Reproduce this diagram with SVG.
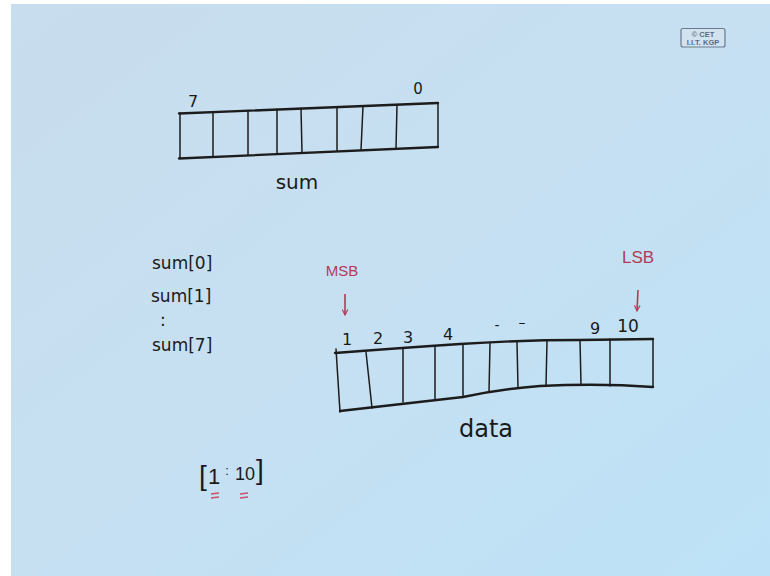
<svg xmlns="http://www.w3.org/2000/svg" width="770" height="576" viewBox="0 0 770 576">
<defs>
<linearGradient id="bg" x1="0" y1="0" x2="1" y2="1">
<stop offset="0" stop-color="#c8dded"/>
<stop offset="0.5" stop-color="#c6e0f2"/>
<stop offset="1" stop-color="#bde2f7"/>
</linearGradient>
<marker id="ah" viewBox="0 0 10 10" refX="9" refY="5" markerWidth="7" markerHeight="7" orient="auto" markerUnits="userSpaceOnUse">
<path d="M1,1 L9,5 L1,9" fill="none" stroke="#b23a55" stroke-width="1.6"/>
</marker>
<style>
.ink{fill:none;stroke:#1c1c1c;stroke-linecap:round;stroke-linejoin:round}
.h{stroke-width:2.4}
.v{stroke-width:1.5}
.t{font-family:"DejaVu Sans","Liberation Sans",sans-serif;fill:#1a1a1a}
.n{font-family:"Liberation Sans",Arial,sans-serif;fill:#1a1a1a}
.r{font-family:"Liberation Sans Narrow","Liberation Sans",sans-serif;fill:#b23a55}
.logo{font-family:"Liberation Sans",Arial,sans-serif;font-weight:bold;fill:#5a6b80;font-size:7.5px}
</style>
</defs>
<rect x="0" y="0" width="770" height="576" fill="#ffffff"/>
<rect x="11" y="4" width="759" height="572" fill="url(#bg)"/>

<g id="logo">
<rect x="681" y="28.5" width="44" height="18.5" rx="2" fill="#d2e2ef" stroke="#6a7a90" stroke-width="1.2"/>
<text class="logo" x="703" y="36.5" text-anchor="middle">© CET</text>
<text class="logo" x="703" y="44.5" text-anchor="middle">I.I.T. KGP</text>
</g>

<g id="sum-register">
<path class="ink h" d="M179,113.5 L438,103"/>
<path class="ink h" d="M179,158.5 L438,147"/>
<path class="ink v" d="M180,113 L180,158 M213,111.7 L213,156.6 M248,110.4 L248,155.1 M277,109.2 L277,153.9 M301,108.3 L302,152.8 M337,106.9 L337,151.3 M363,105.9 L361,150.2 M397,104.6 L396,148.7 M438,103 L438,147"/>
<text class="t" x="193" y="107" font-size="16" text-anchor="middle">7</text>
<text class="t" x="418" y="94" font-size="15" text-anchor="middle">0</text>
<text class="t" x="297" y="189" font-size="20" text-anchor="middle">sum</text>
</g>

<g id="sum-bits">
<text class="t" x="152" y="269" font-size="17">sum[0]</text>
<text class="t" x="151" y="302" font-size="17">sum[1]</text>
<text class="t" x="160" y="326" font-size="17">:</text>
<text class="t" x="152" y="351" font-size="17">sum[7]</text>
</g>

<g id="data-register">
<path class="ink h" d="M335,353 Q400,348 460,344 T580,340 L653,339"/>
<path class="ink h" d="M340,411 Q400,404 463,397 Q500,389 540,386 Q600,383 653,387"/>
<path class="ink v" d="M336,349 L340,412 M366,352 L372,408 M403,349 L403,402 M435,347 L435,400 M463,345 L463,397 M490,343 L489,392 M517,342 L518,388 M547,341 L546,386 M580,340 L581,385 M610,339 L610,386 M653,339 L653,387"/>
<text class="t" x="347" y="345" font-size="16" text-anchor="middle">1</text>
<text class="t" x="378" y="344" font-size="16" text-anchor="middle">2</text>
<text class="t" x="408" y="343" font-size="16" text-anchor="middle">3</text>
<text class="t" x="448" y="340" font-size="16" text-anchor="middle">4</text>
<text class="t" x="497" y="330" font-size="14" text-anchor="middle">-</text>
<text class="t" x="522" y="327" font-size="14" text-anchor="middle">–</text>
<text class="t" x="595" y="334" font-size="16" text-anchor="middle">9</text>
<text class="t" x="628" y="332" font-size="17" text-anchor="middle">10</text>
<text class="t" x="486" y="437" font-size="24" text-anchor="middle">data</text>
</g>

<g id="msb-label">
<text class="r" x="342" y="276" font-size="15" text-anchor="middle">MSB</text>
</g>
<g id="lsb-label">
<text class="r" x="638" y="263" font-size="17" text-anchor="middle">LSB</text>
</g>

<g id="range">
<text class="n" x="199" y="485" font-size="28">[</text>
<text class="n" x="214" y="484" font-size="22" text-anchor="middle">1</text>
<text class="n" x="227" y="475" font-size="13" text-anchor="middle">:</text>
<text class="n" x="235" y="480" font-size="18">10</text>
<text class="n" x="256" y="479" font-size="28">]</text>
<path d="M211,494 L219,493 M211,498 L219,497 M240,494 L248,493 M240,498 L248,497" stroke="#c8506a" stroke-width="1.5" fill="none"/>
</g>

<g id="connectors">
<line x1="345" y1="294" x2="345" y2="315" stroke="#b23a55" stroke-width="1.6" marker-end="url(#ah)"/>
<line x1="638" y1="290" x2="637" y2="311" stroke="#b23a55" stroke-width="1.6" marker-end="url(#ah)"/>
</g>
</svg>
